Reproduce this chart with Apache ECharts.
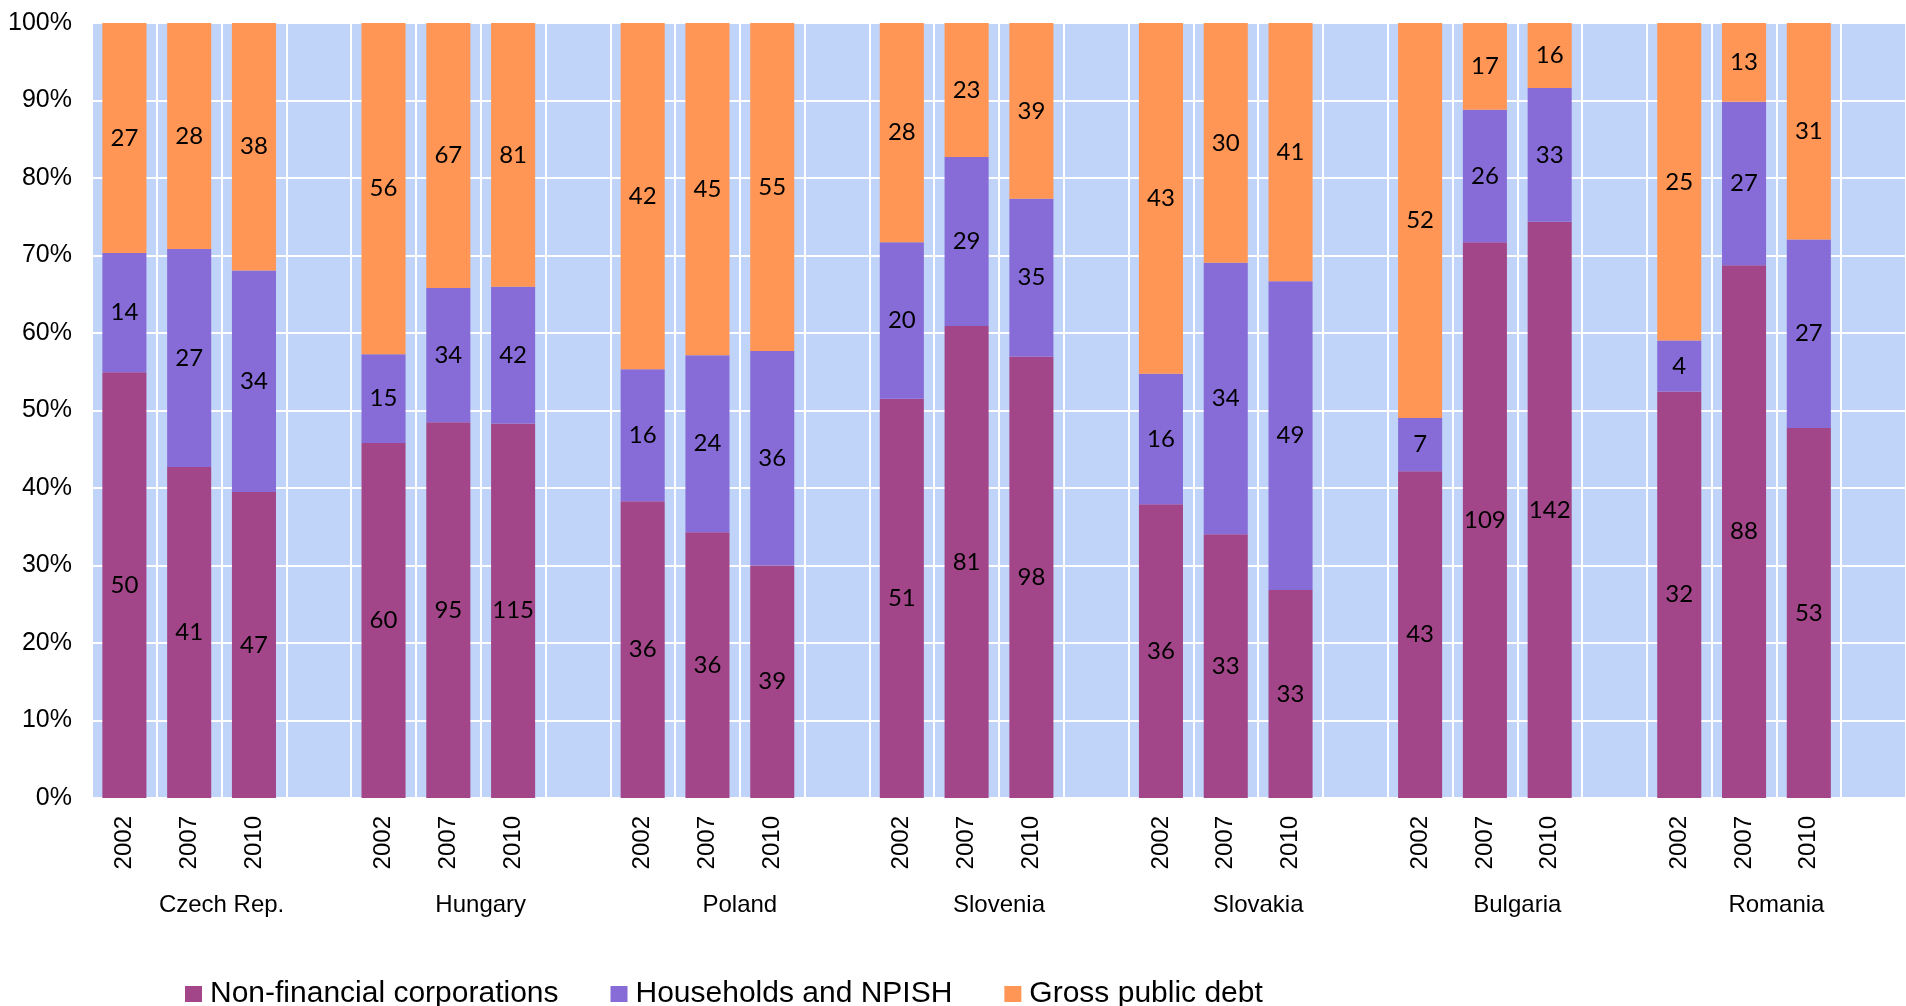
<!DOCTYPE html>
<html>
<head>
<meta charset="utf-8">
<title>Debt structure</title>
<script src="https://cdn.jsdelivr.net/npm/echarts@6/dist/echarts.min.js"></script>
<style>
  html, body { margin: 0; padding: 0; background: #ffffff; }
  #chart { width: 1906px; height: 1006px; }
</style>
</head>
<body>
<div id="chart"></div>
<script>
// Countries and survey years (each country gets three bars and a spacer slot)
const countries = ['Czech Rep.', 'Hungary', 'Poland', 'Slovenia', 'Slovakia', 'Bulgaria', 'Romania'];
const years = ['2002', '2007', '2010'];

// Debt levels (% of GDP), in country order, years 2002 / 2007 / 2010
const nonFinancial = [50, 41, 47, 60, 95, 115, 36, 36, 39, 51, 81, 98, 36, 33, 33, 43, 109, 142, 32, 88, 53];
const households   = [14, 27, 34, 15, 34, 42, 16, 24, 36, 20, 29, 35, 16, 34, 49, 7, 26, 33, 4, 27, 27];
const publicDebt   = [27, 28, 38, 56, 67, 81, 42, 45, 55, 28, 23, 39, 43, 30, 41, 52, 17, 16, 25, 13, 31];

const yTicks = [0, 10, 20, 30, 40, 50, 60, 70, 80, 90, 100];

const seriesNames = ['Non-financial corporations', 'Households and NPISH', 'Gross public debt'];
const seriesColors = ['#A24689', '#876CD7', '#FF9655'];

// Build the slot axis: three years per country followed by an empty spacer
const slotLabels = [];
const slotIndex = []; // slot -> index into value arrays, or -1 for spacer
countries.forEach((c, ci) => {
  years.forEach((y, yi) => { slotLabels.push(y); slotIndex.push(ci * years.length + yi); });
  slotLabels.push(''); slotIndex.push(-1);
});

const rawSeries = [nonFinancial, households, publicDebt];
const totals = nonFinancial.map((v, i) => v + households[i] + publicDebt[i]);

const axisFont = 'Liberation Sans, Arial, sans-serif';

const series = rawSeries.map((arr, si) => ({
  name: seriesNames[si],
  type: 'bar',
  stack: 'share',
  barWidth: '68%',
  itemStyle: { color: seriesColors[si] },
  label: {
    show: true,
    position: 'inside',
    color: '#000000',
    fontFamily: 'Lato, "Noto Sans", sans-serif',
    fontSize: 24,
    formatter: p => {
      const k = slotIndex[p.dataIndex];
      return k < 0 ? '' : String(arr[k]);
    }
  },
  emphasis: { disabled: true },
  data: slotIndex.map(k => k < 0 ? null : arr[k] / totals[k] * 100)
}));

const chart = echarts.init(document.getElementById('chart'), null, { renderer: 'canvas' });
chart.setOption({
  animation: false,
  backgroundColor: '#ffffff',
  grid: {
    left: 92, right: 0, top: 23, bottom: 208,
    show: true, backgroundColor: '#C0D3F8', borderWidth: 0
  },
  legend: {
    left: 180,
    top: 974,
    itemWidth: 17,
    itemHeight: 16,
    itemGap: 52,
    icon: 'rect',
    selectedMode: false,
    textStyle: { fontFamily: axisFont, fontSize: 30, color: '#000000', padding: [0, 0, 0, 3] },
    data: seriesNames
  },
  xAxis: [
    {
      type: 'category',
      data: slotLabels,
      axisLine: { show: false },
      axisTick: { show: false, interval: 0 },
      splitLine: { show: true, interval: 0, lineStyle: { color: '#ffffff', width: 2 } },
      axisLabel: {
        interval: 0,
        rotate: 90,
        margin: 18,
        fontFamily: axisFont,
        fontSize: 24,
        color: '#000000'
      }
    },
    {
      type: 'category',
      gridIndex: 0,
      position: 'bottom',
      offset: 82,
      data: countries,
      axisLine: { show: false },
      axisTick: { show: false },
      splitLine: { show: false },
      axisLabel: {
        interval: 0,
        margin: 13,
        fontFamily: axisFont,
        fontSize: 24,
        color: '#000000'
      }
    }
  ],
  yAxis: {
    type: 'value',
    min: yTicks[0],
    max: yTicks[yTicks.length - 1],
    interval: 10,
    axisLine: { show: false },
    axisTick: { show: false },
    splitLine: { show: true, lineStyle: { color: '#ffffff', width: 2 } },
    axisLabel: {
      margin: 20,
      fontFamily: axisFont,
      fontSize: 25,
      color: '#000000',
      formatter: '{value}%'
    }
  },
  series: series
});
</script>
</body>
</html>
